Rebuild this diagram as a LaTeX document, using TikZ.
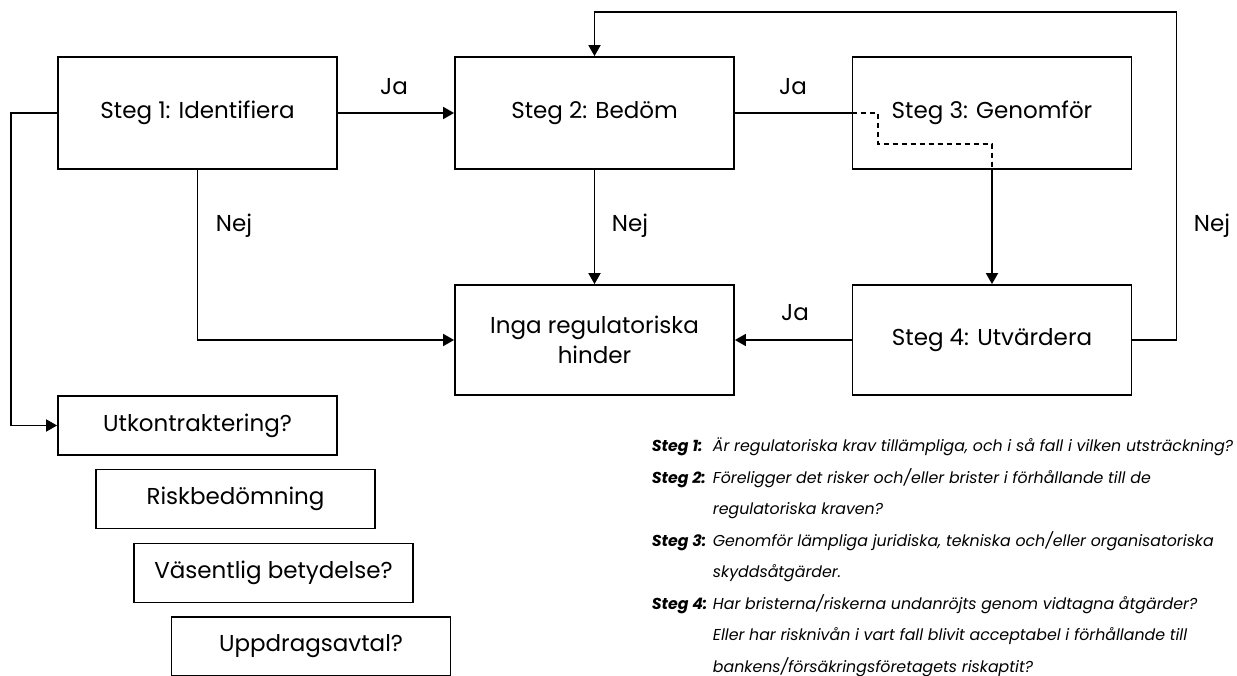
\documentclass[tikz,border=0pt]{standalone}
\usepackage{fontspec}
\setmainfont{Poppins}
\usetikzlibrary{arrows.meta}
\begin{document}
\begin{tikzpicture}[x=1pt,y=-1pt,
  line width=1.8pt,
  stepbox/.style={draw, rectangle, minimum width=279pt, minimum height=112pt, inner sep=0pt, font=\fontsize{23}{27}\selectfont, align=center},
  smallbox/.style={draw, rectangle, minimum width=279pt, minimum height=59pt, inner sep=0pt, font=\fontsize{23}{27}\selectfont},
  lbl/.style={font=\fontsize{23}{27}\selectfont, inner sep=0pt},
  flow/.style={-{Triangle[length=11pt,width=12pt]}, line width=1.8pt},
  note/.style={anchor=base west, inner sep=0pt, font=\fontsize{15.8}{18}\selectfont\itshape},
  notehead/.style={note, font=\fontsize{15.8}{18}\selectfont\bfseries\itshape}
]
\useasboundingbox (0,0) rectangle (1237,676);

% main flow boxes
\node[stepbox] (s1) at (197.5,113) {Steg 1: Identifiera};
\node[stepbox] (s2) at (594.5,113) {Steg 2: Bedöm};
\node[stepbox] (s3) at (992,113) {Steg 3: Genomför};
\node[stepbox, minimum height=110pt] (none) at (594.5,340) {Inga regulatoriska\\[3pt]hinder};
\node[stepbox, minimum height=110pt] (s4) at (992,340) {Steg 4: Utvärdera};

% outsourcing checklist
\node[smallbox] (b1) at (197.5,425.5) {Utkontraktering?};
\node[smallbox] (b2) at (235.5,499) {Riskbedömning};
\node[smallbox] (b3) at (273.5,573) {Väsentlig betydelse?};
\node[smallbox] (b4) at (311,646.5) {Uppdragsavtal?};

% routing points
\coordinate (s3in) at (s3.west);
\coordinate (d1) at (878,113);
\coordinate (d2) at (878,144);
\coordinate (d3) at (992,144);
\coordinate (s3out) at (s3.south);

% connectors
\draw[flow] (s1.east) -- (s2.west);
\draw (s2.east) -- (s3in);
\draw[dashed, dash pattern=on 5pt off 4pt, line width=1.5pt] (s3in) -- (d1) -- (d2) -- (d3) -- (s3out);
\draw[flow] (s3out) -- (s4.north);
\draw[flow] (s2.south) -- (none.north);
\draw[flow] (s1.south) |- (none.west);
\draw[flow] (s4.west) -- (none.east);
\draw[flow] (s4.east) -- ++(44,0) |- (594.5,12) -- (s2.north);
\draw[flow] (s1.west) -- ++(-46,0) |- (b1.west);

% connector labels
\node[lbl] (ja1) at (394,87) {Ja};
\node[lbl] (ja2) at (793,87) {Ja};
\node[lbl] (ja3) at (795,313) {Ja};
\node[lbl] (nej1) at (234,226) {Nej};
\node[lbl] (nej2) at (630,226) {Nej};
\node[lbl] (nej3) at (1212,226) {Nej};

% step descriptions
\node[notehead] (h1) at (651,451.5) {Steg 1:};
\node[note] (t1) at (712,451.5) {Är regulatoriska krav tillämpliga, och i så fall i vilken utsträckning?};
\node[notehead] (h2) at (651,483) {Steg 2:};
\node[note] (t2a) at (712,483) {Föreligger det risker och/eller brister i förhållande till de};
\node[note] (t2b) at (712,514.5) {regulatoriska kraven?};
\node[notehead] (h3) at (651,546) {Steg 3:};
\node[note] (t3a) at (712,546) {Genomför lämpliga juridiska, tekniska och/eller organisatoriska};
\node[note] (t3b) at (712,577.5) {skyddsåtgärder.};
\node[notehead] (h4) at (651,609) {Steg 4:};
\node[note] (t4a) at (712,609) {Har bristerna/riskerna undanröjts genom vidtagna åtgärder?};
\node[note] (t4b) at (712,640.5) {Eller har risknivån i vart fall blivit acceptabel i förhållande till};
\node[note] (t4c) at (712,672) {bankens/försäkringsföretagets riskaptit?};
\end{tikzpicture}
\end{document}
